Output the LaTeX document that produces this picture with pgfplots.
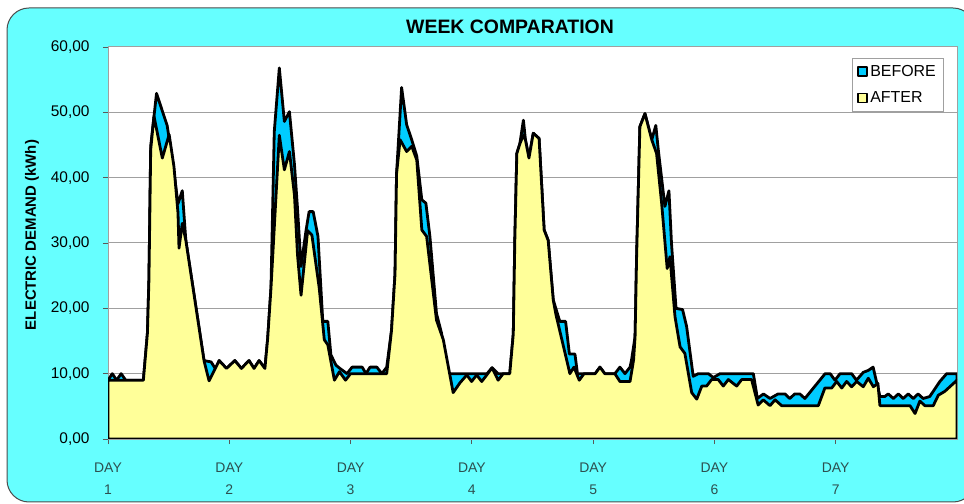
\documentclass[border=0pt]{standalone}
\usepackage{pgfplots}
\pgfplotsset{compat=1.18}
\usepackage{fontspec}
\setmainfont{Liberation Sans}
\definecolor{bgcyan}{RGB}{102,255,255}
\definecolor{beforec}{RGB}{0,204,255}
\definecolor{afterc}{RGB}{255,255,153}
\definecolor{gridgray}{RGB}{160,160,160}
\definecolor{daytext}{RGB}{45,80,80}

\begin{document}
\begin{tikzpicture}
\useasboundingbox (0bp,0bp) rectangle (964bp,504bp);
\draw[fill=bgcyan, draw=black!70, line width=1bp, rounded corners=22bp] (7bp,2bp) rectangle (975bp,496bp);
\begin{axis}[
    at={(108bp,65bp)}, anchor=south west,
    scale only axis, width=849bp, height=392bp,
    xmin=0, xmax=168, ymin=0, ymax=60,
    axis background/.style={fill=white},
    axis line style={gridgray, line width=1bp},
    ymajorgrids, major grid style={gridgray, line width=1bp},
    tick align=outside, tick pos=left, major tick length=5bp,
    tick style={black!65, line width=0.8bp},
    xtick={0,24,...,144},
    xticklabels={{DAY\\1},{DAY\\2},{DAY\\3},{DAY\\4},{DAY\\5},{DAY\\6},{DAY\\7}},
    xticklabel style={align=center, font=\fontsize{14}{22}\selectfont, text=daytext, yshift=-15bp},
    ytick={0,10,...,60},
    /pgf/number format/assume math mode=true,
    yticklabel style={font=\fontsize{15.5}{18}\selectfont, xshift=-10bp,
        /pgf/number format/.cd, fixed, fixed zerofill, precision=2, use comma},
    legend style={at={(0.9835,0.972)}, anchor=north east, draw=gridgray, fill=white,
        font=\fontsize{16}{18}\selectfont, row sep=10bp, inner xsep=5bp, inner ysep=5bp,
        cells={anchor=west}},
    legend image code/.code={\draw[#1, line width=1.8bp] (0bp,-4.5bp) rectangle (9bp,4.5bp);},
]

% BEFORE
\addplot[draw=black, fill=beforec, line width=2.8bp, line join=round] coordinates {
(0,9) (0.85,10) (1.7,9) (2.6,10) (3.5,9) (7,9) (7.8,16.2) (8.1,24.4) (8.45,44.8) (9.6,52.9)
(11.7,48) (12.7,43) (13.85,36) (14.7,38) (15.4,30.4) (19,12) (20.4,11.8) (21.3,10.7) (22,12)
(23.45,10.8) (25.1,12) (26.4,10.8) (27.9,12) (28.9,10.8) (29.9,12) (31.05,10.8) (31.6,15.4)
(32.25,23.1) (32.9,47) (33.9,56.8) (34.9,48.6) (35.9,50.1) (36.9,42) (37.5,35.3) (38.2,26.4)
(39.2,32) (39.8,34.8) (40.6,34.8) (41.55,31) (42.5,18) (43.5,18) (44.1,12.9) (45.1,11.3)
(45.9,10.8) (47.3,10) (48.3,11) (50.3,11) (51.05,10) (51.85,11) (53.2,11) (54.2,10) (55.15,11)
(56.1,16.6) (56.8,25.3) (57.1,40.6) (58.1,53.8) (59.1,48.1) (60.1,45.8) (61.1,43.3) (62.1,36.6)
(62.9,36.1) (63.7,31) (65,19.2) (66,16.2) (67,10) (75,10) (76,10.9) (77.2,10) (79.5,10)
(80.2,16.1) (80.5,30.4) (80.9,43.7) (81.5,45.2) (82.2,48.8) (82.6,45.8) (83.3,43) (84.15,46.8)
(85.3,46) (86.3,32) (87.1,30.4) (88.1,21.3) (89.4,18) (90.55,18) (91.3,13) (92.4,13) (92.9,10)
(95.4,10) (96.4,10) (97.35,11) (98.3,10) (100.3,10) (101.3,11) (102.3,10) (103.3,11) (103.6,12.1)
(104.3,15.7) (104.6,27.9) (105.25,47.8) (106.25,49.8) (107.6,45.8) (108.4,48) (108.9,44.2)
(110.2,35.6) (111,38) (111.5,30) (112.4,20) (113.7,19.8) (114.5,17.2) (115.8,9.6) (116.8,10)
(118.8,10) (119.8,9.4) (121.1,10) (127.7,10) (128.5,6.2) (129.7,6.9) (131,6.2) (132.6,6.9)
(133.95,6.9) (134.9,6.2) (135.9,6.9) (136.9,6.9) (137.9,6.2) (141.9,10) (142.9,10) (143.85,9)
(144.85,10) (147.15,10) (148.1,9) (149.45,10.2) (150.45,10.5) (151.4,11) (152.75,6.5) (153.7,6.5)
(154.4,6.9) (155.4,6.2) (156.4,6.9) (157.35,6.2) (158.35,6.9) (159.35,6.2) (160.3,6.9) (161.3,6.2)
(162.6,6.5) (164.6,8.8) (165.95,10) (168,10)
} \closedcycle;
\addlegendentry{BEFORE}

% AFTER
\addplot[draw=black, fill=afterc, line width=2.8bp, line join=round] coordinates {
(0,9) (7,9) (7.8,16.2) (8.1,24.4) (8.45,44.3) (9.1,49.4) (10.75,43) (12.1,46.6) (13.05,41.7)
(13.85,34.6) (14.05,29.2) (14.7,33) (15.4,30.4) (19,12) (20,8.9) (22,12) (23.45,10.8) (25.1,12)
(26.4,10.8) (27.9,12) (28.9,10.8) (29.9,12) (31.05,10.8) (31.6,15.4) (32.25,23.1) (33.9,46.5)
(34.9,41.2) (35.9,44) (36.9,37.3) (37.5,28.2) (38.2,22) (39.5,31.9) (40.35,31.2) (41.8,23.1)
(42.8,15.2) (43.5,14.4) (44.8,9) (45.8,10.3) (47,9) (48,10) (55.15,10) (56.1,16.6) (56.8,25.3)
(57.1,40.6) (57.8,45.8) (59.1,44) (60.1,44.8) (61.1,42.7) (62.1,32) (63.05,31) (65,18.2)
(66.35,15.2) (68.3,7.1) (69.65,8.6) (71,9.8) (71.95,8.8) (72.95,9.8) (73.95,8.8) (74.95,9.8)
(76,10.9) (77.2,9) (78.2,10) (79.5,10) (80.2,16.1) (80.5,30.4) (80.9,43.7) (81.5,45.2) (82.2,46.5)
(82.6,45.8) (83.3,43) (84.15,46.8) (85.3,46) (86.3,32) (87.1,30.4) (88.1,21.3) (88.65,19)
(91.4,10) (92.2,11) (93.25,9) (94.2,10) (95.4,10) (96.4,10) (97.35,11) (98.3,10) (100.3,10)
(101.3,8.8) (103.3,8.8) (104,12.1) (104.3,15.7) (104.6,27.9) (105.25,47.8) (106.25,49.8)
(107.6,45.8) (108.55,43.7) (109.55,36.1) (110.65,26.1) (111.2,27.9) (112.2,18.7) (113.2,14.1)
(114.15,13.1) (115.5,7.1) (116.5,6.1) (117.5,8.1) (118.45,8.1) (119.45,9.1) (120.75,9.1)
(121.75,8.1) (122.75,9.1) (124.4,8.1) (125.4,9.1) (127.35,9.1) (128.65,5.2) (129.65,6) (131,5.1)
(132,6) (133.3,5.1) (140.55,5.1) (141.85,7.8) (143.2,7.8) (144.2,8.8) (145.2,7.8) (146.15,8.8)
(147.15,8) (148.15,8.8) (149.45,8) (150.45,9.3) (151.45,8) (152.35,8.5) (152.75,5.1) (158.7,5.1)
(159.7,3.9) (160.65,5.8) (161.65,5.1) (163.3,5.1) (164.3,6.7) (165.6,7.3) (168,9)
} \closedcycle;
\addlegendentry{AFTER}

\end{axis}
\node[font=\bfseries\fontsize{19.5}{21}\selectfont] at (510bp,477bp) {WEEK COMPARATION};
\node[rotate=90, font=\bfseries\fontsize{15}{18}\selectfont] at (32bp,269bp) {ELECTRIC DEMAND (kWh)};
\end{tikzpicture}
\end{document}
